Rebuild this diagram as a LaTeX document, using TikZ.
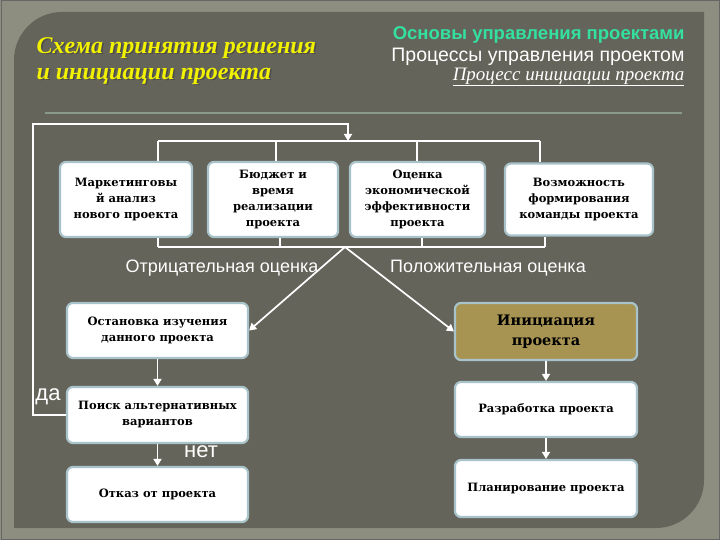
\documentclass[tikz,border=0pt]{standalone}
\usepackage{fontspec}
\setmainfont{Liberation Serif}
\setsansfont{Liberation Sans}
\newfontfamily\boxfont{DejaVu Serif}
\usetikzlibrary{arrows.meta,calc}

\definecolor{frame}{HTML}{8E8E80}
\definecolor{panel}{HTML}{64645A}
\definecolor{rule}{HTML}{8A9A88}
\definecolor{edge}{HTML}{A9C3CB}
\definecolor{gold}{HTML}{A89452}
\definecolor{head}{HTML}{33E0A0}
\definecolor{titl}{HTML}{F2F200}

\tikzset{
  blk/.style={draw=edge, line width=2.2pt, fill=white, rounded corners=6pt,
    align=center, font=\boxfont\bfseries\fontsize{11.5}{16}\selectfont, text=black,
    inner sep=2pt},
  wire/.style={draw=white, line width=1.7pt},
  arr/.style={wire, -{Triangle[length=7pt,width=8pt]}},
  lbl/.style={text=white, font=\sffamily\fontsize{18}{20}\selectfont},
  ttl/.style={anchor=west, font=\bfseries\itshape\fontsize{24}{26}\selectfont}
}

\begin{document}
\begin{tikzpicture}[x=1pt,y=-1pt]
  \useasboundingbox (0,0) rectangle (720,540);
  % background and panel
  \fill[frame] (0,0) rectangle (720,540);
  \draw[black!60, line width=1pt] (1,1) rectangle (719,539);
  \fill[panel] (14,60) arc[start angle=180, end angle=270, radius=48]
    -- (704,12) -- (704,480) arc[start angle=0, end angle=90, radius=48]
    -- (14,528) -- cycle;
  \draw[rule, line width=1.2pt] (45,113) -- (682,113);

  % headings
  \node[ttl, text=black!70] (s1) at (34.5,49.5) {Схема принятия решения};
  \node[ttl, text=black!70] (s2) at (34.5,77.5) {и инициации проекта};
  \node[ttl, text=titl] (t1) at (33,48) {Схема принятия решения};
  \node[ttl, text=titl] (t2) at (33,76) {и инициации проекта};
  \node[anchor=east, text=head, font=\sffamily\bfseries\fontsize{18.5}{20}\selectfont] (h1) at (688,35) {Основы управления проектами};
  \node[anchor=east, text=white, font=\sffamily\fontsize{19.5}{21}\selectfont] (h2) at (688,57) {Процессы управления проектом};
  \node[anchor=east, text=white, font=\itshape\fontsize{19}{21}\selectfont] (h3) at (688,77) {\underline{Процесс инициации проекта}};

  % top row
  \node[blk, minimum width=132pt, minimum height=75pt] (mark) at (126,199.5) {Маркетинговы\\й анализ\\нового проекта};
  \node[blk, minimum width=130pt, minimum height=75pt] (budg) at (273,199.5) {Бюджет и\\время\\реализации\\проекта};
  \node[blk, minimum width=135pt, minimum height=75pt] (econ) at (417.5,199.5) {Оценка\\экономической\\эффективности\\проекта};
  \node[blk, minimum width=148pt, minimum height=72pt] (team) at (579,199.5) {Возможность\\формирования\\команды проекта};

  % left column
  \node[blk, minimum width=181pt, minimum height=55pt] (stop) at (157.5,330.5) {Остановка изучения\\данного проекта};
  \node[blk, minimum width=181pt, minimum height=56pt] (alt) at (157.5,415) {Поиск альтернативных\\вариантов};
  \node[blk, minimum width=181pt, minimum height=55pt] (drop) at (157.5,494.5) {Отказ от проекта};

  % right column
  \node[blk, fill=gold, minimum width=182pt, minimum height=57pt, font=\boxfont\bfseries\fontsize{14.5}{20}\selectfont] (init) at (546,331.5) {Инициация\\проекта};
  \node[blk, minimum width=182pt, minimum height=55pt] (dev) at (546,409.5) {Разработка проекта};
  \node[blk, minimum width=182pt, minimum height=57pt] (plan) at (546,488.5) {Планирование проекта};

  % brackets
  \coordinate (ua) at (158,141);
  \coordinate (ub) at (276,141);
  \coordinate (uc) at (417,141);
  \coordinate (ud) at (540,141);
  \coordinate (la) at (158,247);
  \coordinate (lb) at (280,247);
  \coordinate (lc) at (422,247);
  \coordinate (ld) at (545,247);
  \coordinate (apex) at (345,247);
  \path[wire] (ua) -- (ud)
    (ua) -- (ua |- mark.north) (ub) -- (ub |- budg.north)
    (uc) -- (uc |- econ.north) (ud) -- (ud |- team.north);
  \path[wire] (la) -- (ld)
    (la) -- (la |- mark.south) (lb) -- (lb |- budg.south)
    (lc) -- (lc |- econ.south) (ld) -- (ld |- team.south);

  % decisions
  \node[lbl] (neg) at (222,268) {Отрицательная оценка};
  \node[lbl] (pos) at (488,268) {Положительная оценка};
  \path[arr] (apex) -- (stop.east);
  \path[arr] (apex) -- (init.west);

  % loop back
  \coordinate (c1) at (33,124);
  \coordinate (c2) at (348,124);
  \coordinate (c3) at (348,141);
  \path[arr] (alt.west) -- (alt.west -| c1) -- (c1) -- (c2) -- (c3);
  \node[lbl, font=\sffamily\fontsize{22}{24}\selectfont] (yes) at (48,397) {да};

  % vertical chains
  \path[arr] (stop.south) -- (alt.north);
  \path[arr] (alt.south) -- (drop.north);
  \node[lbl, font=\sffamily\fontsize{22}{24}\selectfont] (no) at (201,452) {нет};
  \path[arr] (init.south) -- (dev.north);
  \path[arr] (dev.south) -- (plan.north);
\end{tikzpicture}
\end{document}
